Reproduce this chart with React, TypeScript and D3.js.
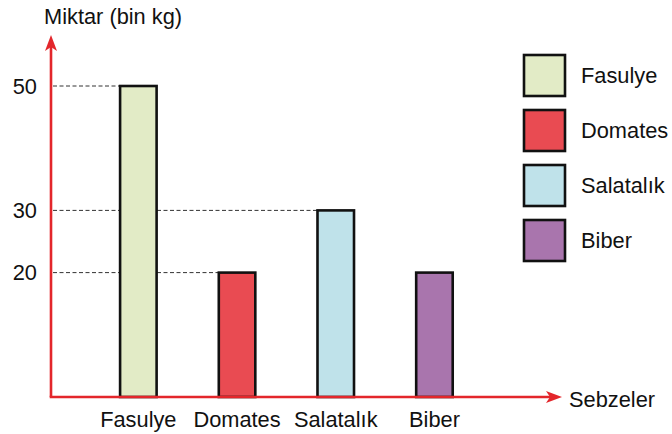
import React from "react";
import * as d3 from "d3";

const categories = ["Fasulye", "Domates", "Salatalık", "Biber"];
const values = [50, 20, 30, 20];
const colors = ["#e2ebc6", "#e94b52", "#bfe2ea", "#a975ad"];
const tickValues = [20, 30, 50];
const yTitle = "Miktar (bin kg)";
const xTitle = "Sebzeler";

const W = 672;
const H = 434;
const axisX = 51;
const axisY = 397;
const red = "#e3262b";
const font = "'Liberation Sans', Arial, Helvetica, sans-serif";
const fs = 21.8;

export default function App() {
  const y = d3.scaleLinear().domain([0, 50]).range([axisY, 86]);
  const x = d3
    .scaleBand<string>()
    .domain(categories)
    .range([89, 483.8])
    .paddingInner(0.63)
    .paddingOuter(0.315);

  const dashEnd = (t: number) => {
    const idx = values.findIndex((v) => v === t);
    return idx >= 0 ? (x(categories[idx]) as number) : axisX;
  };

  return (
    <svg
      width={W}
      height={H}
      style={{ position: "absolute", left: 0, top: 0, background: "#fff" }}
      fontFamily={font}
    >
      <rect x={0} y={0} width={W} height={H} fill="#fff" />
      {tickValues.map((t) => (
        <line
          key={"d" + t}
          x1={axisX + 2}
          x2={dashEnd(t)}
          y1={y(t)}
          y2={y(t)}
          stroke="#333"
          strokeWidth={1}
          strokeDasharray="4,2.5"
        />
      ))}
      {tickValues.map((t) => (
        <text
          key={"t" + t}
          x={37}
          y={y(t) + 7.5}
          fontSize={fs}
          textAnchor="end"
          fill="#111"
        >
          {t}
        </text>
      ))}
      {categories.map((c, i) => (
        <rect
          key={c}
          x={x(c)}
          y={y(values[i])}
          width={x.bandwidth()}
          height={axisY - y(values[i])}
          fill={colors[i]}
          stroke="#111"
          strokeWidth={2.6}
        />
      ))}
      <line x1={axisX} x2={axisX} y1={axisY} y2={46} stroke={red} strokeWidth={2.6} />
      <path
        d={`M${axisX},35 L${axisX + 6},51 L${axisX},47 L${axisX - 6},51 Z`}
        fill={red}
      />
      <line x1={axisX - 1.3} x2={550} y1={axisY} y2={axisY} stroke={red} strokeWidth={2.6} />
      <path
        d={`M562,${axisY} L546,${axisY - 6} L550,${axisY} L546,${axisY + 6} Z`}
        fill={red}
      />
      {categories.map((c) => (
        <text
          key={"l" + c}
          x={(x(c) as number) + x.bandwidth() / 2}
          y={427}
          fontSize={fs}
          textAnchor="middle"
          fill="#111"
        >
          {c}
        </text>
      ))}
      <text x={44} y={24} fontSize={fs} fill="#111">
        {yTitle}
      </text>
      <text x={569} y={406.5} fontSize={fs} fill="#111">
        {xTitle}
      </text>
      {categories.map((c, i) => (
        <g key={"g" + c} transform={`translate(524, ${55 + i * 55})`}>
          <rect width={41} height={41} fill={colors[i]} stroke="#111" strokeWidth={2.6} />
          <text x={57} y={28} fontSize={fs} fill="#111">
            {c}
          </text>
        </g>
      ))}
    </svg>
  );
}
